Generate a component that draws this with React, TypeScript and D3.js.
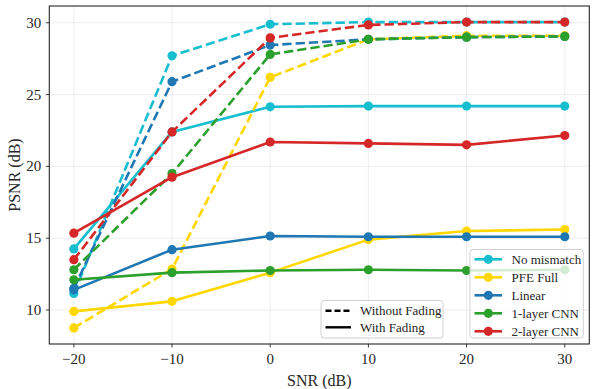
import React from "react";
import * as d3 from "d3";

const snr = [-20, -10, 0, 10, 20, 30];
const seriesNames = ["No mismatch", "PFE Full", "Linear", "1-layer CNN", "2-layer CNN"];
const seriesColors = ["#17becf", "#ffd700", "#1f77b4", "#2ca02c", "#d62728"];

// With fading (solid)
const noMismatchFading = [14.25, 22.4, 24.15, 24.2, 24.2, 24.2];
const pfeFullFading = [9.9, 10.6, 12.6, 14.9, 15.5, 15.6];
const linearFading = [11.4, 14.2, 15.15, 15.1, 15.1, 15.1];
const cnn1Fading = [12.1, 12.6, 12.75, 12.8, 12.75, 12.8];
const cnn2Fading = [15.35, 19.25, 21.7, 21.6, 21.5, 22.15];

// Without fading (dashed)
const noMismatchNoFading = [11.15, 27.7, 29.9, 30.05, 30.05, 30.05];
const pfeFullNoFading = [8.75, 12.85, 26.2, 28.85, 29.1, 29.1];
const linearNoFading = [11.5, 25.9, 28.45, 28.85, 29.0, 29.05];
const cnn1NoFading = [12.8, 19.5, 27.8, 28.85, 29.0, 29.05];
const cnn2NoFading = [13.5, 22.4, 28.95, 29.85, 30.05, 30.05];

const xTicks = [-20, -10, 0, 10, 20, 30];
const yTicks = [10, 15, 20, 25, 30];

const fadingSeries = [noMismatchFading, pfeFullFading, linearFading, cnn1Fading, cnn2Fading];
const noFadingSeries = [noMismatchNoFading, pfeFullNoFading, linearNoFading, cnn1NoFading, cnn2NoFading];

const W = 596;
const H = 389;
const L = 49.3, R = 589.3, T = 6, B = 344;
const FONT = "'Liberation Serif', 'DejaVu Serif', serif";

export default function App() {
  const x = d3.scaleLinear().domain([-22.5, 32.5]).range([L, R]);
  const y = d3.scaleLinear().domain([7.63, 31.17]).range([B, T]);
  const line = d3
    .line<number>()
    .x((_, i) => x(snr[i]))
    .y((d) => y(d));

  const fmt = (v: number) => (v < 0 ? "\u2212" + Math.abs(v) : String(v));

  const drawSeries = (vals: number[], color: string, dashed: boolean, key: string) => (
    <g key={key}>
      <path
        d={line(vals) || ""}
        fill="none"
        stroke={color}
        strokeWidth={2.6}
        strokeDasharray={dashed ? "9.3,4" : undefined}
        strokeLinejoin="round"
      />
      {vals.map((v, i) => (
        <circle key={i} cx={x(snr[i])} cy={y(v)} r={4.6} fill={color} />
      ))}
    </g>
  );

  // legend geometry
  const lg = { x0: 470, x1: 583.3, y0: 249.5, y1: 338 };
  const lgRows = seriesNames.map((_, i) => 259.3 + i * 18);
  const lg2 = { x0: 321, x1: 443, y0: 300.5, y1: 338 };

  return (
    <svg
      width={W}
      height={H}
      style={{ position: "fixed", left: 0, top: 0, background: "#fff" }}
      fontFamily={FONT}
    >
      <rect x={0} y={0} width={W} height={H} fill="#fff" />
      {/* grid */}
      {xTicks.map((t) => (
        <line key={"gx" + t} x1={x(t)} x2={x(t)} y1={T} y2={B} stroke="#ebebeb" strokeWidth={0.9} />
      ))}
      {yTicks.map((t) => (
        <line key={"gy" + t} x1={L} x2={R} y1={y(t)} y2={y(t)} stroke="#ebebeb" strokeWidth={0.9} />
      ))}

      {/* series: for each model, solid then dashed */}
      {seriesNames.map((n, i) => (
        <g key={n}>
          {drawSeries(fadingSeries[i], seriesColors[i], false, "s" + i)}
          {drawSeries(noFadingSeries[i], seriesColors[i], true, "d" + i)}
        </g>
      ))}

      {/* frame */}
      <rect x={L} y={T} width={R - L} height={B - T} fill="none" stroke="#262626" strokeWidth={1.1} />

      {/* x ticks */}
      {xTicks.map((t) => (
        <g key={"xt" + t}>
          <line x1={x(t)} x2={x(t)} y1={B} y2={B + 3.5} stroke="#262626" strokeWidth={0.9} />
          <text x={x(t)} y={B + 20} textAnchor="middle" fontSize={15} fill="#262626">
            {fmt(t)}
          </text>
        </g>
      ))}
      {/* y ticks */}
      {yTicks.map((t) => (
        <g key={"yt" + t}>
          <line x1={L - 3.5} x2={L} y1={y(t)} y2={y(t)} stroke="#262626" strokeWidth={0.9} />
          <text x={L - 8} y={y(t) + 5} textAnchor="end" fontSize={15} fill="#262626">
            {fmt(t)}
          </text>
        </g>
      ))}

      {/* axis labels */}
      <text x={(L + R) / 2} y={386} textAnchor="middle" fontSize={16} fill="#262626">
        SNR (dB)
      </text>
      <text
        transform={`translate(20,${(T + B) / 2}) rotate(-90)`}
        textAnchor="middle"
        fontSize={16}
        fill="#262626"
      >
        PSNR (dB)
      </text>

      {/* line-style legend */}
      <rect
        x={lg2.x0}
        y={lg2.y0}
        width={lg2.x1 - lg2.x0}
        height={lg2.y1 - lg2.y0}
        rx={3}
        fill="#fff"
        fillOpacity={0.8}
        stroke="#cccccc"
        strokeWidth={0.9}
      />
      <line x1={325.5} x2={351} y1={310.7} y2={310.7} stroke="#000" strokeWidth={2.4} strokeDasharray="6,3" />
      <text x={360} y={315} fontSize={13} fill="#262626">
        Without Fading
      </text>
      <line x1={325.5} x2={351} y1={327.3} y2={327.3} stroke="#000" strokeWidth={2.4} />
      <text x={360} y={331.6} fontSize={13} fill="#262626">
        With Fading
      </text>

      {/* model legend */}
      <rect
        x={lg.x0}
        y={lg.y0}
        width={lg.x1 - lg.x0}
        height={lg.y1 - lg.y0}
        rx={3}
        fill="#fff"
        fillOpacity={0.8}
        stroke="#cccccc"
        strokeWidth={0.9}
      />
      {seriesNames.map((n, i) => (
        <g key={"lg" + n}>
          <line x1={474.5} x2={502} y1={lgRows[i]} y2={lgRows[i]} stroke={seriesColors[i]} strokeWidth={2.6} />
          <circle cx={488.3} cy={lgRows[i]} r={4.6} fill={seriesColors[i]} />
          <text x={511.5} y={lgRows[i] + 4.3} fontSize={13} fill="#262626">
            {n}
          </text>
        </g>
      ))}
    </svg>
  );
}
